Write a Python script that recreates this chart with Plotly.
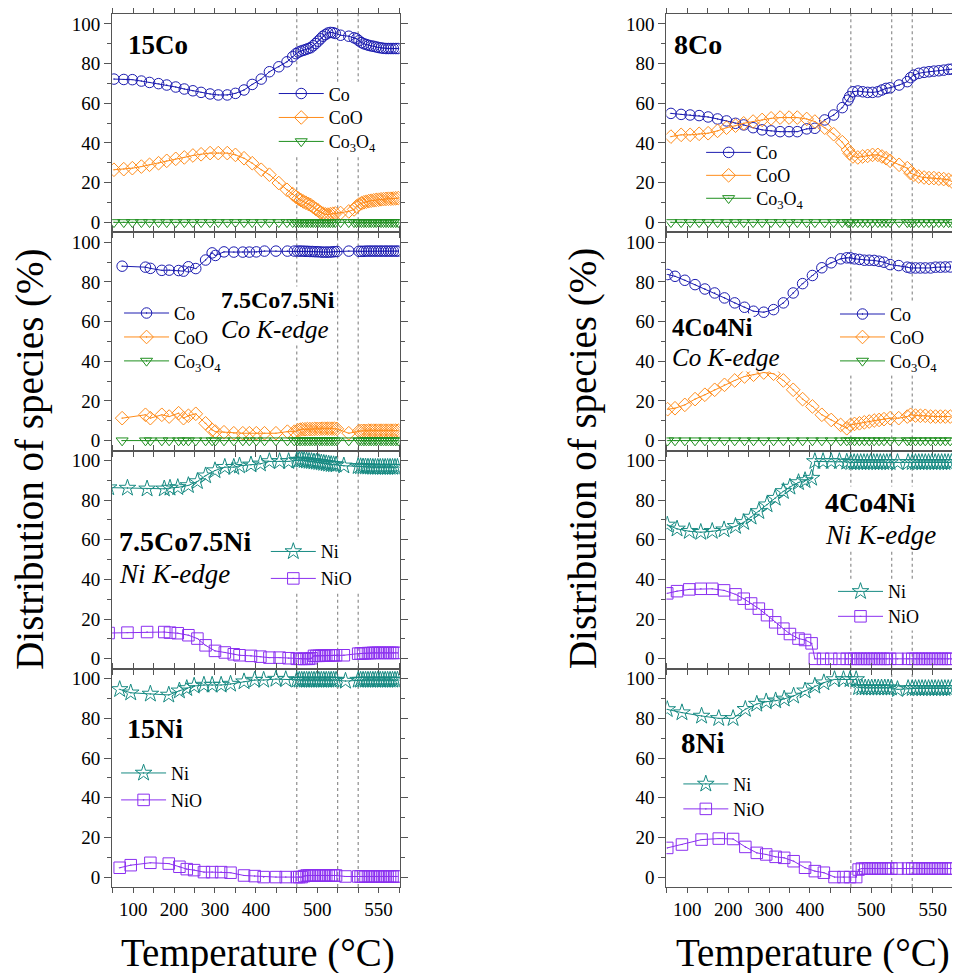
import plotly.graph_objects as go

# The page body adds an 8 px margin, so the figure is drawn 8 px smaller and
# all reference pixel positions are shifted by that amount.
OFF = 8
FIG_W, FIG_H = 960 - OFF, 973 - OFF
PLOT_TOP, PLOT_BOTTOM = 12, 887  # in reference (screen) pixels


def px_x(px):
    return (px - OFF) / FIG_W


def px_y(py):
    return (PLOT_BOTTOM - py) / (PLOT_BOTTOM - PLOT_TOP)


# ---------------- axis labels ----------------
# x axis is a ramp/time coordinate; labels give the temperature
phase_lines = [500, 600, 650]
tick_pos = [100, 200, 300, 400, 550, 700]
tick_labels = ["100", "200", "300", "400", "500", "550"]
y_major = [0, 20, 40, 60, 80, 100]

# ---------------- 15Co ----------------
x_15co = [53, 77, 98, 120, 140, 162, 182, 204, 225, 246,
          266, 288, 308, 330, 350, 371, 391, 413, 433, 456,
          476, 490, 498, 504, 510, 516, 522, 528, 534, 540,
          546, 552, 558, 564, 570, 576, 582, 588, 594, 607,
          627, 640, 646, 652, 658, 664, 670, 676, 682, 688,
          694, 700, 706, 712, 718, 724, 730, 736, 742, 748]
co_15co = [72.2, 72.0, 71.9, 71.2, 70.5, 69.9, 69.2, 68.2, 67.2, 66.3,
           65.5, 64.7, 64.2, 64.2, 65.0, 66.7, 69.5, 72.2, 75.9, 78.4,
           80.9, 83.5, 85.0, 85.8, 86.3, 86.7, 87.1, 87.6, 88.0, 89.0,
           90.1, 91.3, 92.5, 93.8, 94.6, 95.4, 95.7, 95.6, 95.2, 94.3,
           93.8, 93.0, 92.5, 91.5, 90.6, 90.0, 89.6, 89.2, 88.9, 88.7,
           88.4, 88.1, 87.9, 87.7, 87.6, 87.6, 87.6, 87.6, 87.6, 87.6]
coo_15co = [26.5, 26.8, 27.3, 28.1, 29.0, 29.8, 31.0, 32.0, 32.7, 33.7,
            34.3, 34.9, 34.9, 34.9, 34.0, 32.3, 29.8, 26.5, 24.0, 19.8,
            16.4, 14.2, 12.8, 12.0, 11.2, 10.5, 9.9, 9.3, 8.7, 7.8,
            6.8, 6.0, 5.0, 4.4, 4.0, 3.9, 4.1, 4.3, 4.5, 4.7,
            5.5, 6.5, 8.0, 9.0, 9.6, 10.1, 10.4, 10.7, 10.9, 11.1,
            11.3, 11.4, 11.6, 11.7, 11.8, 11.9, 11.9, 12.0, 12.1, 12.2]
co3o4_15co = [0, 0, 0, 0, 0, 0, 0, 0, 0, 0,
              0, 0, 0, 0, 0, 0, 0, 0, 0, 0,
              0, 0, 0, 0, 0, 0, 0, 0, 0, 0,
              0, 0, 0, 0, 0, 0, 0, 0, 0, 0,
              0, 0, 0, 0, 0, 0, 0, 0, 0, 0,
              0, 0, 0, 0, 0, 0, 0, 0, 0, 0]

# ---------------- 7.5Co7.5Ni, Co K-edge ----------------
x_75_cok = [73, 130, 142, 170, 188, 211, 223, 235, 253, 277,
            293, 301, 322, 346, 368, 384, 401, 421, 449, 477,
            494, 502, 508, 514, 520, 526, 532, 538, 544, 550,
            556, 562, 568, 574, 580, 586, 592, 598, 627, 652,
            658, 664, 670, 676, 682, 688, 694, 700, 706, 712,
            718, 724, 730, 736, 742, 748]
co_75_cok = [87.9, 87.4, 86.8, 85.8, 85.9, 85.7, 85.4, 87.6, 86.7, 91.0,
             94.6, 93.3, 95.1, 95.0, 95.0, 95.0, 95.1, 95.5, 95.5, 95.5,
             95.5, 95.5, 95.5, 95.5, 95.4, 95.4, 95.3, 95.3, 95.2, 95.2,
             95.1, 95.0, 95.0, 95.0, 95.0, 95.1, 95.2, 95.3, 95.5, 95.4,
             95.4, 95.4, 95.5, 95.5, 95.5, 95.5, 95.5, 95.5, 95.5, 95.5,
             95.5, 95.5, 95.5, 95.5, 95.5, 95.5]
coo_75_cok = [11.3, 13.0, 11.3, 13.0, 12.1, 13.8, 11.3, 12.5, 13.5, 8.7,
              5.4, 4.5, 4.2, 3.7, 3.7, 3.7, 3.7, 3.7, 3.7, 4.5,
              4.5, 5.2, 5.5, 5.7, 5.7, 5.8, 5.8, 5.8, 5.9, 5.9,
              5.9, 6.0, 6.0, 6.0, 6.0, 6.0, 6.0, 5.9, 3.7, 4.8,
              4.9, 4.9, 4.9, 5.0, 5.0, 5.0, 5.0, 5.0, 5.0, 5.0,
              5.0, 5.0, 5.0, 5.0, 5.0, 5.0]
co3o4_75_cok = [0, 0, 0, 0, 0, 0, 0, 0, 0, 0,
                0, 0, 0, 0, 0, 0, 0, 0, 0, 0,
                0, 0, 0, 0, 0, 0, 0, 0, 0, 0,
                0, 0, 0, 0, 0, 0, 0, 0, 0, 0,
                0, 0, 0, 0, 0, 0, 0, 0, 0, 0,
                0, 0, 0, 0, 0, 0]

# ---------------- 7.5Co7.5Ni, Ni K-edge ----------------
x_75_nik = [40, 86, 134, 176, 190, 209, 235, 257, 277, 300, 324,
            346, 360, 388, 411, 433, 458, 480, 500, 506, 512,
            518, 524, 530, 536, 542, 548, 554, 560, 566, 572,
            578, 584, 590, 596, 615, 650, 656, 662, 668, 674,
            680, 686, 692, 698, 704, 710, 716, 722, 728, 734,
            740, 746]
ni_75_nik = [86.3, 86.1, 85.7, 85.7, 86.1, 86.4, 87.4, 89.4, 92.3, 94.9, 96.6,
             96.6, 97.3, 97.8, 98.3, 99.5, 99.5, 99.5, 100.0, 100.2, 100.2,
             100.0, 99.8, 99.6, 99.5, 99.3, 99.2, 99.0, 98.8, 98.6, 98.4,
             98.2, 98.0, 97.9, 97.8, 97.3, 97.0, 96.9, 96.8, 96.8, 96.7,
             96.7, 96.6, 96.6, 96.6, 96.6, 96.6, 96.6, 96.6, 96.6, 96.6,
             96.6, 96.6]
nio_75_nik = [13.0, 13.2, 13.5, 13.5, 13.2, 12.9, 11.9, 10.2, 6.8, 4.0, 3.2,
              2.3, 1.8, 1.5, 1.1, 0.6, 0.6, 0.3, 0.0, 0.0, 0.0,
              0.0, 0.0, 0.0, 0.3, 1.5, 1.5, 1.5, 1.6, 1.6, 1.7,
              1.7, 1.7, 1.8, 1.8, 1.8, 2.6, 2.7, 2.8, 2.8, 2.9,
              2.9, 3.0, 3.0, 3.0, 3.0, 3.0, 3.0, 3.0, 3.0, 3.0,
              3.0, 3.0]

# ---------------- 15Ni ----------------
x_15ni = [67, 94, 142, 187, 213, 231, 249, 273, 293, 315,
          338, 371, 397, 419, 449, 473, 500, 506, 512, 518,
          524, 530, 536, 542, 548, 554, 560, 566, 572, 578,
          584, 590, 596, 619, 650, 656, 662, 668, 674, 680,
          686, 692, 698, 704, 710, 716, 722, 728, 734, 740,
          746]
ni_15ni = [94.6, 92.9, 92.3, 91.8, 93.9, 95.1, 96.3, 96.8, 96.8, 96.8,
           97.3, 98.5, 99.3, 99.3, 99.8, 99.6, 99.3, 99.3, 99.3, 99.3,
           99.3, 99.3, 99.3, 99.3, 99.3, 99.3, 99.3, 99.3, 99.3, 99.3,
           99.3, 99.3, 99.3, 98.8, 99.3, 99.3, 99.3, 99.3, 99.3, 99.3,
           99.3, 99.3, 99.3, 99.3, 99.3, 99.3, 99.3, 99.3, 99.3, 99.3,
           99.3]
nio_15ni = [4.7, 6.0, 7.2, 6.8, 5.2, 4.0, 3.5, 2.5, 2.5, 2.5,
            2.2, 0.8, 0.5, 0.0, 0.0, 0.0, 0.0, 0.0, 0.0, 0.5,
            0.8, 0.8, 0.8, 0.8, 0.8, 0.8, 0.8, 0.8, 0.8, 0.8,
            0.8, 0.8, 0.8, 0.3, 0.3, 0.3, 0.3, 0.3, 0.3, 0.3,
            0.3, 0.3, 0.3, 0.3, 0.3, 0.3, 0.3, 0.3, 0.3, 0.3,
            0.3]

# ---------------- 8Co ----------------
x_8co = [60, 85, 107, 129, 151, 174, 196, 218, 238, 261,
         283, 305, 327, 349, 369, 392, 412, 436, 458, 479,
         493, 497, 505, 517, 529, 541, 553, 566, 576, 586,
         596, 618, 638, 646, 654, 666, 679, 691, 703, 715,
         727, 739, 747]
co_8co = [54.9, 54.4, 54.1, 53.8, 53.1, 52.1, 51.1, 49.9, 49.1, 47.7,
          46.6, 46.1, 45.7, 45.7, 45.7, 47.1, 47.4, 51.6, 54.1, 57.8,
          61.6, 63.3, 65.8, 66.2, 65.8, 65.5, 65.5, 65.8, 66.7, 67.5,
          67.8, 69.2, 70.9, 72.9, 74.2, 75.1, 75.6, 75.9, 76.2, 76.4,
          76.7, 77.1, 77.2]
coo_8co = [43.2, 44.1, 44.1, 44.6, 44.9, 46.1, 47.7, 48.7, 49.9, 50.8,
           51.6, 52.4, 52.8, 52.8, 52.8, 52.1, 50.8, 47.7, 44.4, 40.4,
           36.5, 34.8, 33.2, 32.7, 33.2, 33.5, 34.0, 34.0, 33.2, 32.3,
           31.0, 29.0, 27.3, 24.8, 24.0, 23.1, 22.6, 22.3, 22.3, 22.0,
           21.8, 21.4, 20.6]
co3o4_8co = [0, 0, 0, 0, 0, 0, 0, 0, 0, 0,
             0, 0, 0, 0, 0, 0, 0, 0, 0, 0,
             0, 0, 0, 0, 0, 0, 0, 0, 0, 0,
             0, 0, 0, 0, 0, 0, 0, 0, 0, 0,
             0, 0, 0]

# ---------------- 4Co4Ni, Co K-edge ----------------
x_44_cok = [52, 70, 94, 119, 143, 167, 191, 216, 240, 262,
            287, 311, 335, 359, 382, 406, 429, 452, 475, 490,
            499, 509, 521, 533, 545, 557, 569, 581, 596, 617,
            638, 646, 658, 670, 682, 695, 707, 719, 731, 743]
co_44_cok = [83.7, 82.8, 80.8, 78.6, 76.4, 74.4, 71.9, 69.4, 67.2, 65.2,
             64.7, 66.0, 69.4, 74.4, 79.1, 83.2, 87.1, 89.6, 91.6, 92.1,
             92.1, 91.6, 91.3, 90.9, 90.9, 90.8, 90.4, 89.9, 88.7, 88.2,
             87.4, 87.0, 87.0, 87.0, 87.0, 87.0, 87.4, 87.4, 87.5, 87.5]
coo_44_cok = [15.8, 16.3, 18.0, 20.9, 23.1, 25.6, 28.1, 30.3, 32.3, 33.2,
              34.3, 33.7, 30.3, 25.6, 20.9, 17.2, 13.0, 10.4, 7.9, 6.2,
              7.9, 8.4, 8.7, 9.2, 9.6, 10.1, 10.4, 10.8, 11.3, 11.3,
              12.1, 13.0, 12.6, 12.5, 12.5, 12.1, 12.1, 12.1, 12.1, 12.1]
co3o4_44_cok = [0, 0, 0, 0, 0, 0, 0, 0, 0, 0,
                0, 0, 0, 0, 0, 0, 0, 0, 0, 0,
                0, 0, 0, 0, 0, 0, 0, 0, 0, 0,
                0, 0, 0, 0, 0, 0, 0, 0, 0, 0]

# ---------------- 4Co4Ni, Ni K-edge ----------------
x_44_nik = [51, 75, 105, 133, 161, 190, 218, 238, 256, 275,
            295, 315, 335, 351, 372, 388, 404, 412, 432, 452,
            472, 490, 500, 508, 516, 524, 532, 540, 548, 556,
            564, 572, 580, 588, 596, 614, 640, 650, 658, 666,
            674, 682, 690, 698, 706, 714, 722, 730, 738, 746]
ni_44_nik = [67.5, 65.5, 64.3, 63.8, 64.3, 65.1, 66.8, 68.8, 71.5, 74.3,
             77.7, 81.0, 84.4, 86.6, 88.9, 89.9, 91.1, 99.5, 99.5, 99.5,
             99.5, 99.2, 99.0, 99.0, 99.0, 99.0, 99.0, 99.0, 99.0, 99.0,
             99.0, 99.0, 99.0, 99.0, 99.0, 99.0, 99.0, 99.0, 99.0, 99.0,
             99.0, 99.0, 99.0, 99.0, 99.0, 99.0, 99.0, 99.0, 99.0, 99.0]
nio_44_nik = [33.0, 34.1, 35.0, 35.3, 35.3, 34.5, 32.5, 30.3, 27.9, 25.3,
              22.0, 18.4, 15.2, 12.5, 10.2, 9.5, 7.8, 0.0, 0.0, 0.0,
              0.0, 0.0, 0.0, 0.0, 0.0, 0.0, 0.0, 0.0, 0.0, 0.0,
              0.0, 0.0, 0.0, 0.0, 0.0, 0.0, 0.0, 0.0, 0.0, 0.0,
              0.0, 0.0, 0.0, 0.0, 0.0, 0.0, 0.0, 0.0, 0.0, 0.0]

# ---------------- 8Ni ----------------
x_8ni = [51, 87, 135, 177, 212, 242, 270, 293, 316, 337,
         360, 388, 412, 434, 460, 482, 498, 513, 519, 527,
         535, 543, 551, 559, 567, 575, 583, 591, 599, 614,
         640, 650, 658, 666, 674, 682, 690, 698, 706, 714,
         722, 730, 738, 746]
ni_8ni = [84.5, 82.9, 81.2, 80.0, 80.0, 84.6, 87.2, 88.4, 88.9, 89.8,
          91.3, 93.9, 96.3, 98.0, 99.6, 99.6, 99.6, 99.6, 95.6, 95.4,
          95.4, 95.4, 95.4, 95.4, 95.4, 95.4, 95.4, 95.4, 95.4, 94.6,
          95.1, 95.1, 95.1, 95.1, 95.1, 95.1, 95.1, 95.1, 95.1, 95.1,
          95.1, 95.1, 95.1, 95.1]
nio_8ni = [14.7, 16.4, 18.9, 19.4, 19.2, 15.2, 12.2, 11.4, 10.2, 9.7,
           8.0, 4.7, 3.0, 2.2, 0.0, 0.0, 0.0, 0.0, 3.8, 4.3,
           4.3, 4.3, 4.3, 4.3, 4.3, 4.3, 4.3, 4.3, 4.3, 4.3,
           4.3, 4.3, 4.3, 4.3, 4.3, 4.3, 4.3, 4.3, 4.3, 4.3,
           4.3, 4.3, 4.3, 4.3]

# ---------------- styles ----------------
STYLE = {
    "Co": dict(color="#1c1cb0", symbol="circle-open-dot", size=10.5, name="Co"),
    "CoO": dict(color="#ff8c1a", symbol="diamond-open-dot", size=10.5, name="CoO"),
    "Co3O4": dict(color="#1f8f1f", symbol="triangle-down-open-dot", size=10.5,
                  name="Co<sub>3</sub>O<sub>4</sub>"),
    "Ni": dict(color="#168a82", symbol="star-open-dot", size=12.5, name="Ni"),
    "NiO": dict(color="#8b2ff0", symbol="square-open-dot", size=11.5, name="NiO"),
}

SERIF = "Liberation Serif, Times New Roman, serif"

# panels: col, row, x, series, legend (line start x, item centre ys), labels
panels = [
    dict(col=0, row=0, x=x_15co,
         series=[("Co", co_15co), ("CoO", coo_15co), ("Co3O4", co3o4_15co)],
         legend=(281, [92, 116, 140]),
         labels=[("<b>15Co</b>", 128, 43, 27)]),
    dict(col=0, row=1, x=x_75_cok,
         series=[("Co", co_75_cok), ("CoO", coo_75_cok), ("Co3O4", co3o4_75_cok)],
         legend=(125, [312, 336, 360]),
         labels=[("<b>7.5Co7.5Ni</b>", 222, 299, 24), ("<i>Co K-edge</i>", 222, 328, 25)]),
    dict(col=0, row=2, x=x_75_nik,
         series=[("Ni", ni_75_nik), ("NiO", nio_75_nik)],
         legend=(273, [551, 578]),
         labels=[("<b>7.5Co7.5Ni</b>", 119, 541, 28), ("<i>Ni K-edge</i>", 119, 573, 27)]),
    dict(col=0, row=3, x=x_15ni,
         series=[("Ni", ni_15ni), ("NiO", nio_15ni)],
         legend=(122, [773, 800]),
         labels=[("<b>15Ni</b>", 127, 728, 28)]),
    dict(col=1, row=0, x=x_8co,
         series=[("Co", co_8co), ("CoO", coo_8co), ("Co3O4", co3o4_8co)],
         legend=(712, [151, 174, 197]),
         labels=[("<b>8Co</b>", 679, 43, 28)]),
    dict(col=1, row=1, x=x_44_cok,
         series=[("Co", co_44_cok), ("CoO", coo_44_cok), ("Co3O4", co3o4_44_cok)],
         legend=(847, [313, 336, 360]),
         labels=[("<b>4Co4Ni</b>", 677, 326, 25), ("<i>Co K-edge</i>", 677, 356, 25)]),
    dict(col=1, row=2, x=x_44_nik,
         series=[("Ni", ni_44_nik), ("NiO", nio_44_nik)],
         legend=(845, [591, 616]),
         labels=[("<b>4Co4Ni</b>", 831, 502, 28), ("<i>Ni K-edge</i>", 831, 534, 27)]),
    dict(col=1, row=3, x=x_8ni,
         series=[("Ni", ni_8ni), ("NiO", nio_8ni)],
         legend=(689, [784, 809]),
         labels=[("<b>8Ni</b>", 686, 743, 29)]),
]

COL_DOMAIN = [(113, 403), (672, 960)]
COL_RANGE = [(48.5, 751.5), (49.0, 747.3)]
ROW_H = (PLOT_BOTTOM - PLOT_TOP) / 4.0

fig = go.Figure()
layout = dict(
    width=FIG_W, height=FIG_H,
    margin=dict(l=0, r=0, t=PLOT_TOP - OFF, b=FIG_H - (PLOT_BOTTOM - OFF)),
    paper_bgcolor="white", plot_bgcolor="white",
    font=dict(family=SERIF, size=19, color="black"),
    showlegend=True,
)
annotations = []
shapes = []

AXIS_COLOR = "#555555"
ITEM_W = 45
leg_count = 0

for k, p in enumerate(panels, start=1):
    xa = "x" if k == 1 else f"x{k}"
    ya = "y" if k == 1 else f"y{k}"
    c0, c1 = COL_DOMAIN[p["col"]]
    top = PLOT_TOP + p["row"] * ROW_H
    bot = top + ROW_H
    bottom_row = p["row"] == 3
    lx, lys = p["legend"]

    for (key, vals), ly in zip(p["series"], lys):
        leg_count += 1
        leg = "legend" if leg_count == 1 else f"legend{leg_count}"
        st = STYLE[key]
        fig.add_trace(go.Scatter(
            x=p["x"], y=vals, mode="lines+markers", name=st["name"],
            xaxis=xa, yaxis=ya, legend=leg,
            line=dict(color=st["color"], width=1),
            marker=dict(symbol=st["symbol"], size=st["size"], color=st["color"],
                        line=dict(color=st["color"], width=1)),
        ))
        layout[leg] = dict(
            x=px_x(lx - 5), y=px_y(ly), xanchor="left", yanchor="middle",
            bgcolor="rgba(0,0,0,0)", borderwidth=0, tracegroupgap=0, itemwidth=ITEM_W,
            font=dict(family=SERIF, size=18, color="black"),
            itemclick=False, itemdoubleclick=False,
        )

    # white backing behind the legend block (hides the dotted guide lines)
    block_w = 100 if len(p["series"]) == 3 else 90
    shapes.append(dict(type="rect", xref="paper", yref="paper", layer="above",
                       x0=px_x(lx - 4), x1=px_x(lx + block_w),
                       y0=px_y(lys[-1] + 14), y1=px_y(lys[0] - 12),
                       fillcolor="white", line=dict(width=0)))

    layout["xaxis" if k == 1 else f"xaxis{k}"] = dict(
        domain=[px_x(c0), px_x(c1)], range=list(COL_RANGE[p["col"]]), anchor=ya,
        tickmode="array", tickvals=tick_pos, ticktext=tick_labels,
        showticklabels=bottom_row, ticks="outside", ticklen=5, tickcolor=AXIS_COLOR,
        minor=dict(tickmode="linear", tick0=0, dtick=50, ticks="outside", ticklen=5,
                   tickcolor=AXIS_COLOR, showgrid=False),
        showline=True, linecolor=AXIS_COLOR, linewidth=1, mirror="ticks",
        showgrid=False, zeroline=False,
        tickfont=dict(family=SERIF, size=19, color="black"),
    )
    layout["yaxis" if k == 1 else f"yaxis{k}"] = dict(
        domain=[px_y(bot), px_y(top)], range=[-5, 105], anchor=xa,
        tickmode="array", tickvals=y_major,
        ticks="outside", ticklen=7, tickcolor=AXIS_COLOR,
        minor=dict(tickmode="linear", tick0=0, dtick=10, ticks="outside", ticklen=4,
                   tickcolor=AXIS_COLOR, showgrid=False),
        showline=True, linecolor=AXIS_COLOR, linewidth=1, mirror="ticks",
        showgrid=False, zeroline=False,
        tickfont=dict(family=SERIF, size=19, color="black"),
    )

    for t in phase_lines:
        shapes.append(dict(type="line", xref=xa, yref=f"{ya} domain",
                           x0=t, x1=t, y0=0, y1=1, layer="below",
                           line=dict(color="#777777", width=1, dash="dot")))

    for text, ax_px, ay_px, fs in p["labels"]:
        annotations.append(dict(
            text=text, xref="paper", yref="paper", x=px_x(ax_px), y=px_y(ay_px),
            xanchor="left", yanchor="middle", showarrow=False,
            bgcolor="white", borderpad=0,
            font=dict(family=SERIF, size=fs, color="black"),
        ))

# axis titles
for cx in (30, 588):
    annotations.append(dict(
        text="Distribution of species (%)", xref="paper", yref="paper",
        x=px_x(cx), y=px_y(458), xanchor="center", yanchor="middle",
        textangle=-90, showarrow=False,
        font=dict(family=SERIF, size=39, color="black"),
    ))
for cx in (260, 820):
    annotations.append(dict(
        text="Temperature (°C)", xref="paper", yref="paper",
        x=px_x(cx), y=px_y(953), xanchor="center", yanchor="middle",
        showarrow=False,
        font=dict(family=SERIF, size=39, color="black"),
    ))

layout["annotations"] = annotations
layout["shapes"] = shapes
fig.update_layout(**layout)

fig.write_html("out.html")
